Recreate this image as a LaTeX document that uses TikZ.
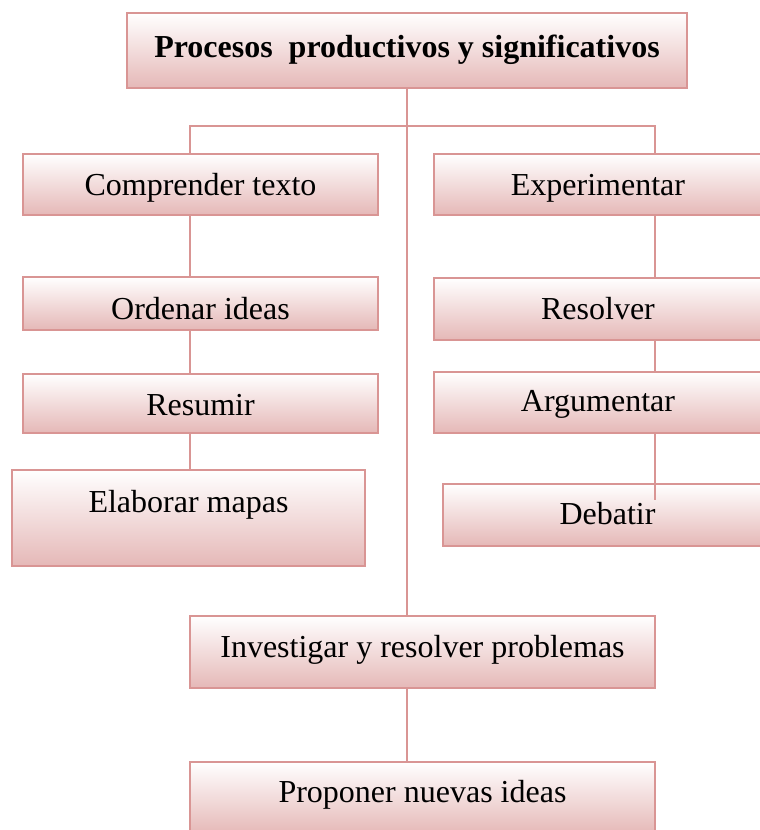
\documentclass[tikz,border=0pt]{standalone}
\usepackage{fontspec}
\setmainfont{Liberation Serif}
\usepackage{tikz}
\usetikzlibrary{positioning,calc}
\definecolor{borde}{RGB}{217,149,148}
\definecolor{rosa}{RGB}{229,184,183}

\begin{document}
\begin{tikzpicture}[x=0.5pt,y=-0.5pt,
  caja/.style={rectangle,draw=borde,line width=1.4pt,top color=white,bottom color=rosa,
    inner sep=0pt,text height=11pt,font=\fontsize{16}{19}\selectfont},
  linea/.style={draw=borde,line width=1.1pt}]
  \useasboundingbox (0,0) rectangle (760,830);
  \clip (0,0) rectangle (760,830);
  \node[caja,minimum width=280pt,minimum height=37.5pt,text depth=4pt] (titulo) at (407,50.5) {\textbf{Procesos \ productivos y significativos}};
  \node[caja,minimum width=177.5pt,minimum height=30.5pt,text depth=0.5pt] (comp) at (200.5,184.5) {Comprender texto};
  \node[caja,minimum width=164pt,minimum height=30.5pt,text depth=0.5pt] (exp) at (598,184.5) {Experimentar};
  \node[caja,minimum width=177.5pt,minimum height=26.5pt,text height=16pt,text depth=0.5pt] (ord) at (200.5,303.5) {Ordenar ideas};
  \node[caja,minimum width=164pt,minimum height=31pt,text depth=1pt] (resol) at (598,309) {Resolver};
  \node[caja,minimum width=177.5pt,minimum height=29.5pt,text height=12pt,text depth=0.5pt] (resu) at (200.5,403.5) {Resumir};
  \node[caja,minimum width=164pt,minimum height=30.5pt,text depth=2pt] (arg) at (598,402.5) {Argumentar};
  \node[caja,minimum width=176.5pt,minimum height=48pt,text depth=17pt] (elab) at (188.5,518) {Elaborar mapas};
  \node[caja,minimum width=164.5pt,minimum height=31pt,text depth=1.5pt] (deb) at (607.5,515) {Debatir};
  \node[caja,minimum width=232.5pt,minimum height=36pt,text depth=6pt] (inv) at (422.5,652) {Investigar y resolver problemas};
  \node[caja,minimum width=232.5pt,minimum height=36pt,text depth=7pt] (prop) at (422.5,798) {Proponer nuevas ideas};
  \coordinate (izq) at (190,0);
  \coordinate (der) at (655,0);
  \coordinate (eje) at (407,0);
  \coordinate (bus) at (0,126);
  \coordinate (fin) at (655,500);
  \draw[linea] (titulo.south -| eje) -- (bus -| eje);
  \draw[linea] (comp.north -| izq) |- (bus -| eje) -| (exp.north -| der);
  \draw[linea] (bus -| eje) -- (inv.north -| eje);
  \draw[linea] (comp.south -| izq) -- (ord.north -| izq);
  \draw[linea] (ord.south -| izq) -- (resu.north -| izq);
  \draw[linea] (resu.south -| izq) -- (elab.north -| izq);
  \draw[linea] (exp.south -| der) -- (resol.north -| der);
  \draw[linea] (resol.south -| der) -- (arg.north -| der);
  \draw[linea] (arg.south -| der) -- (fin);
  \draw[linea] (inv.south -| eje) -- (prop.north -| eje);
\end{tikzpicture}
\end{document}
